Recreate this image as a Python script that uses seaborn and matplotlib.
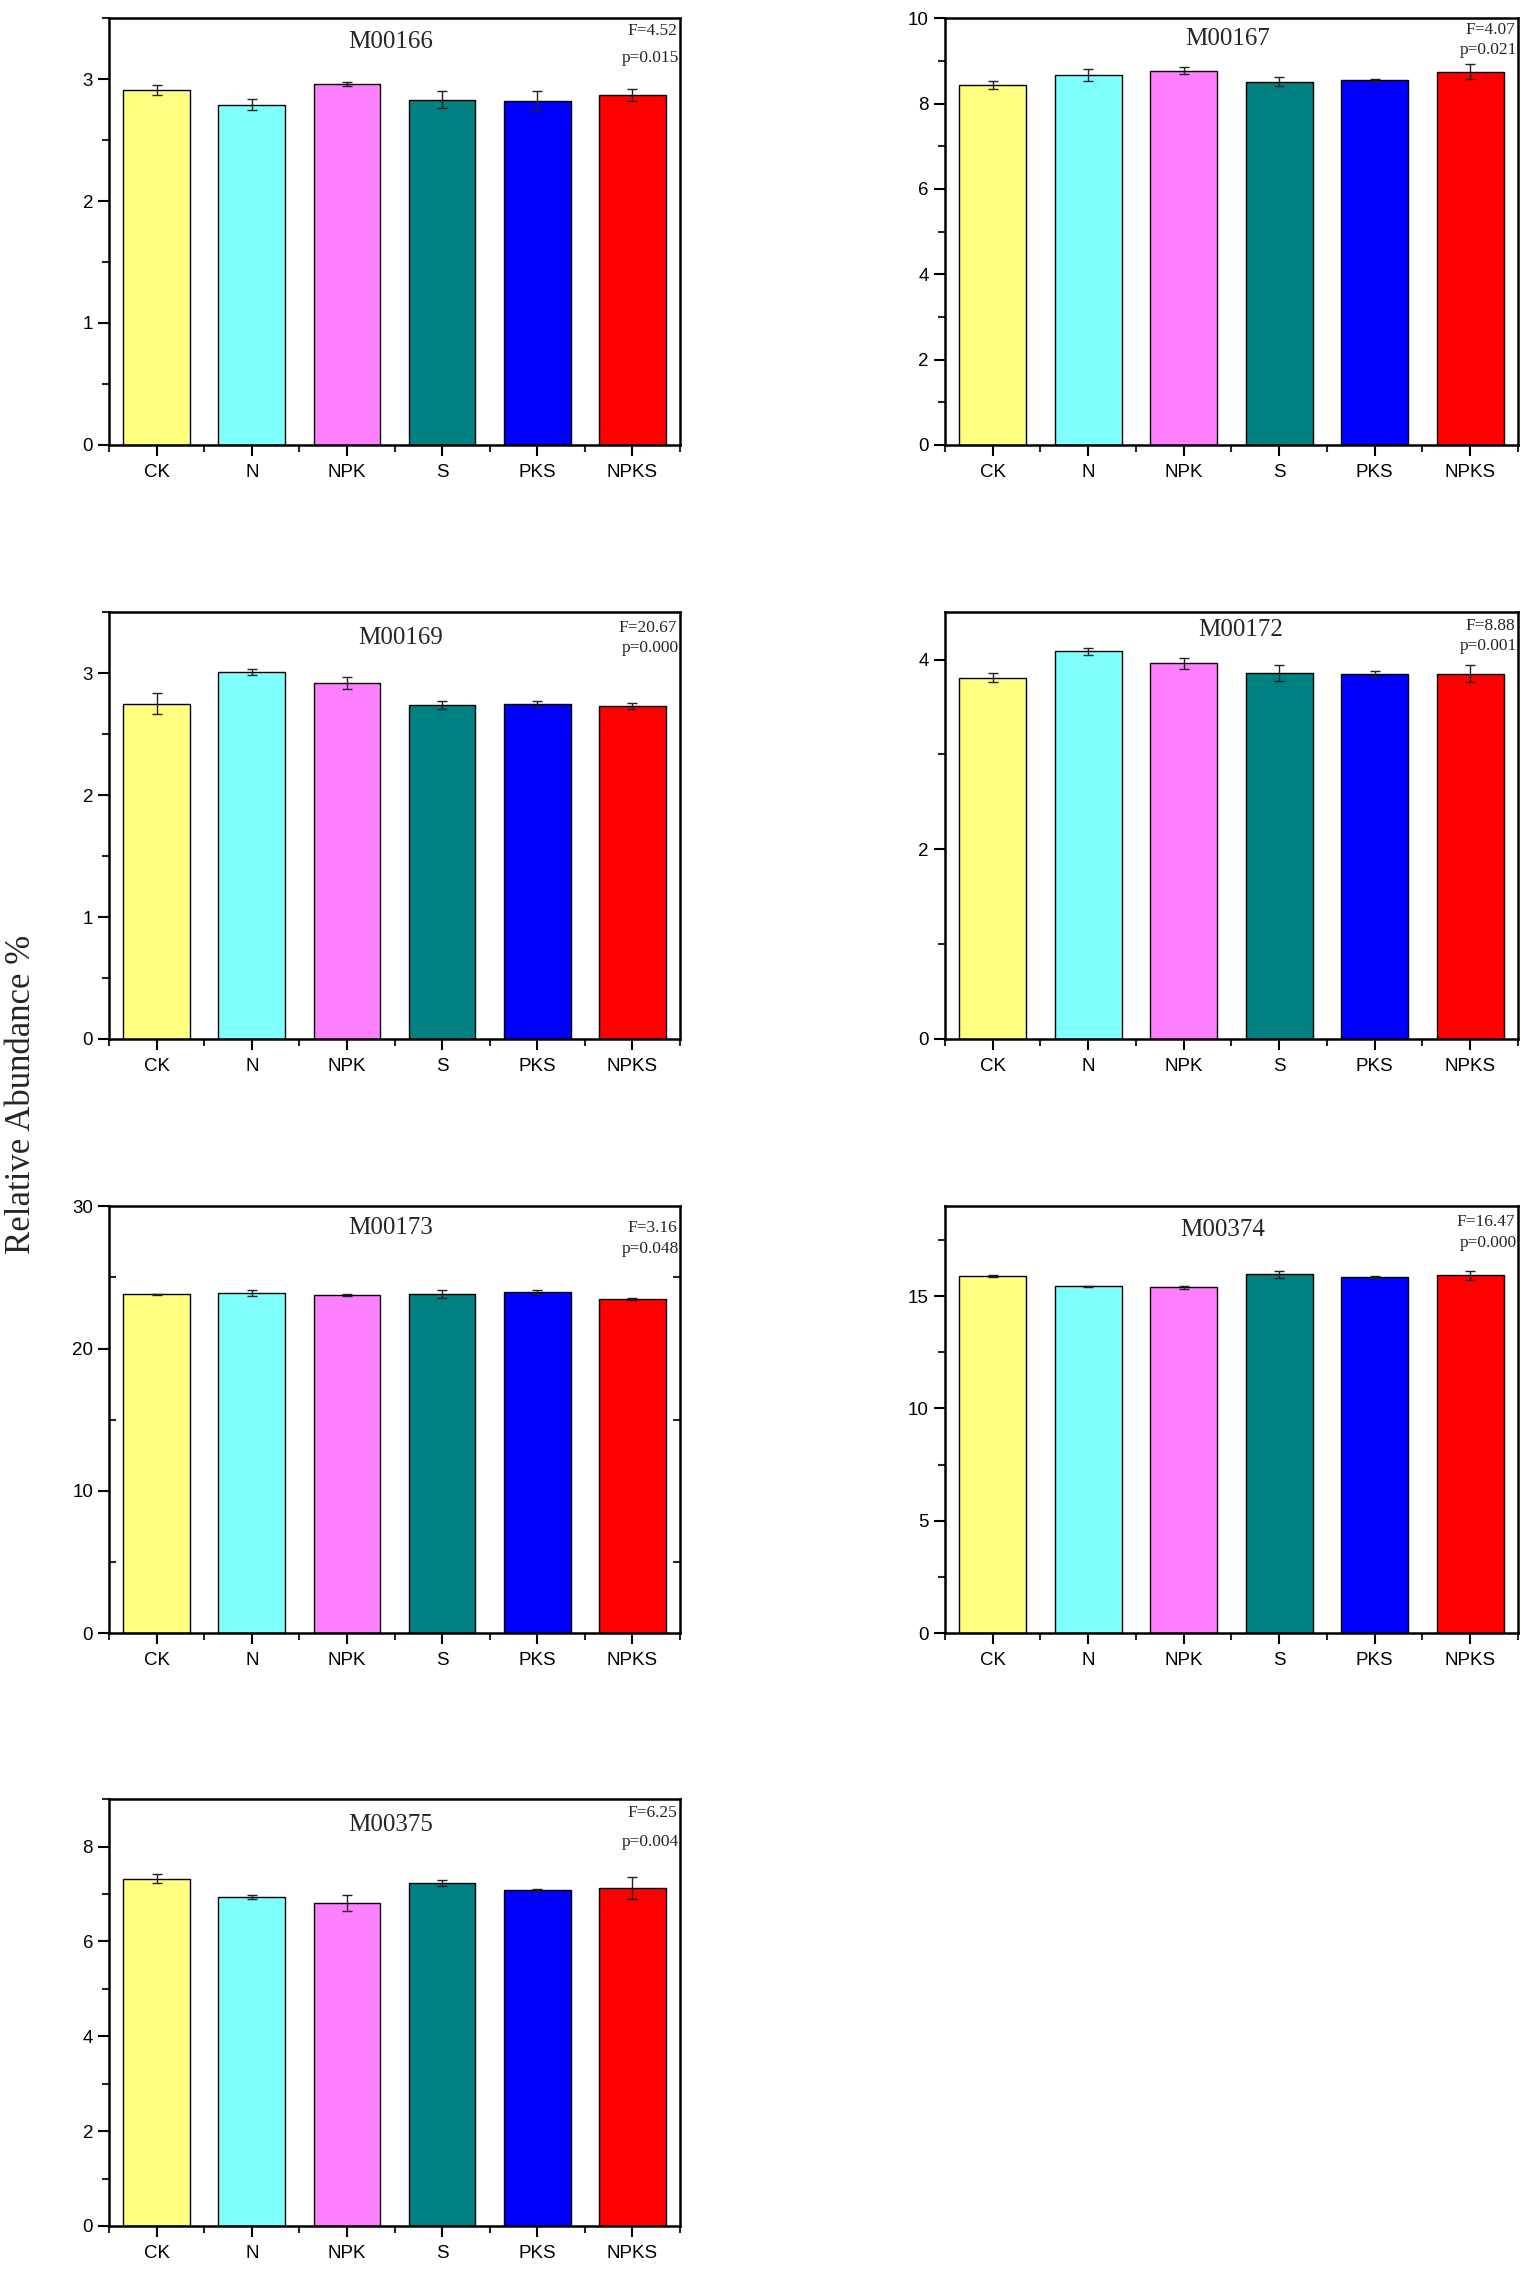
import matplotlib
matplotlib.use('Agg')
import matplotlib.pyplot as plt
from matplotlib.ticker import MultipleLocator, FixedLocator, NullFormatter
import pandas as pd
import seaborn as sns

sns.set_style('ticks')
plt.rcParams['font.family'] = ['Liberation Sans', 'DejaVu Sans']

# treatments and bar colours
groups = ['CK', 'N', 'NPK', 'S', 'PKS', 'NPKS']
colors = ['#FFFF80', '#80FFFF', '#FF80FF', '#008080', '#0000FF', '#FF0000']

# modules, means, standard errors and ANOVA results
modules = ['M00166', 'M00167', 'M00169', 'M00172', 'M00173', 'M00374', 'M00375']
means = [
    [2.91, 2.79, 2.96, 2.83, 2.82, 2.87],
    [8.44, 8.67, 8.77, 8.51, 8.55, 8.75],
    [2.75, 3.01, 2.92, 2.74, 2.75, 2.73],
    [3.81, 4.09, 3.96, 3.86, 3.85, 3.85],
    [23.80, 23.90, 23.76, 23.83, 23.97, 23.47],
    [15.91, 15.43, 15.39, 15.97, 15.85, 15.92],
    [7.32, 6.94, 6.82, 7.23, 7.09, 7.13],
]
errors = [
    [0.04, 0.045, 0.02, 0.07, 0.08, 0.05],
    [0.09, 0.15, 0.09, 0.11, 0.03, 0.18],
    [0.085, 0.023, 0.05, 0.03, 0.025, 0.023],
    [0.045, 0.037, 0.055, 0.08, 0.035, 0.09],
    [0.03, 0.23, 0.08, 0.27, 0.16, 0.05],
    [0.05, 0.02, 0.06, 0.16, 0.03, 0.22],
    [0.095, 0.035, 0.17, 0.06, 0.02, 0.23],
]
f_vals = ['4.52', '4.07', '20.67', '8.88', '3.16', '16.47', '6.25']
p_vals = ['0.015', '0.021', '0.000', '0.001', '0.048', '0.000', '0.004']

# axis settings per panel: (ymax, major step, minor step)
y_axes = [(3.5, 1, 0.5), (10, 2, 1), (3.5, 1, 0.5), (4.5, 2, 1),
          (30, 10, 5), (19, 5, 2.5), (9, 2, 1)]

# panel placement in figure fractions
col_x = [(0.0710, 0.3717), (0.6152, 0.3730)]
row_y = [0.804, 0.5423, 0.2806, 0.0194]
ax_h = 0.188
title_y = [0.944, 0.952, 0.94, 0.958, 0.948, 0.944, 0.94]
title_x = [0.494, 0.494, 0.51, 0.517, 0.494, 0.485, 0.494]
f_y = [0.97, 0.972, 0.962, 0.967, 0.948, 0.962, 0.967]
p_y = [0.906, 0.925, 0.915, 0.92, 0.90, 0.913, 0.90]

serif = ['Liberation Serif', 'DejaVu Serif']

fig = plt.figure(figsize=(15.36, 22.70), dpi=100)

for i, mod in enumerate(modules):
    r, c = divmod(i, 2)
    ax = fig.add_axes([col_x[c][0], row_y[r], col_x[c][1], ax_h])
    df = pd.DataFrame({'group': groups, 'value': means[i]})
    sns.barplot(data=df, x='group', y='value', hue='group', palette=colors,
                order=groups, hue_order=groups, width=0.7, errorbar=None,
                saturation=1, edgecolor='black', linewidth=1.0, legend=False, ax=ax)
    ax.errorbar(range(len(groups)), means[i], yerr=errors[i], fmt='none',
                ecolor='#222222', elinewidth=1.0, capsize=3.5, capthick=1.0)

    ymax, major, minor = y_axes[i]
    ax.set_ylim(0, ymax)
    ax.set_xlim(-0.5, len(groups) - 0.5)
    ax.yaxis.set_major_locator(MultipleLocator(major))
    ax.yaxis.set_minor_locator(MultipleLocator(minor))
    ax.xaxis.set_minor_locator(FixedLocator([k - 0.5 for k in range(len(groups) + 1)]))
    ax.xaxis.set_minor_formatter(NullFormatter())
    ax.tick_params(axis='both', which='major', direction='out', length=8, width=1.5,
                   labelsize=13.5, colors='black')
    ax.tick_params(axis='both', which='minor', direction='out', length=5, width=1.5)
    ax.tick_params(axis='x', pad=6)
    if mod == 'M00173':
        ax.tick_params(axis='y', which='minor', right=True, direction='in')
    for s in ax.spines.values():
        s.set_visible(True)
        s.set_linewidth(1.8)
        s.set_color('black')
    ax.set_xlabel('')
    ax.set_ylabel('')

    ax.text(title_x[i], title_y[i], mod, transform=ax.transAxes, ha='center', va='center',
            fontsize=18, family=serif)
    ax.text(0.995, f_y[i], 'F=' + f_vals[i], transform=ax.transAxes, ha='right', va='center',
            fontsize=12.5, family=serif)
    ax.text(0.998, p_y[i], 'p=' + p_vals[i], transform=ax.transAxes, ha='right', va='center',
            fontsize=12.5, family=serif)

fig.text(0.014, 0.518, 'Relative Abundance %', rotation=90, ha='center', va='center',
         fontsize=25, family=serif)

fig.savefig('out.png', dpi=100, facecolor='white')
